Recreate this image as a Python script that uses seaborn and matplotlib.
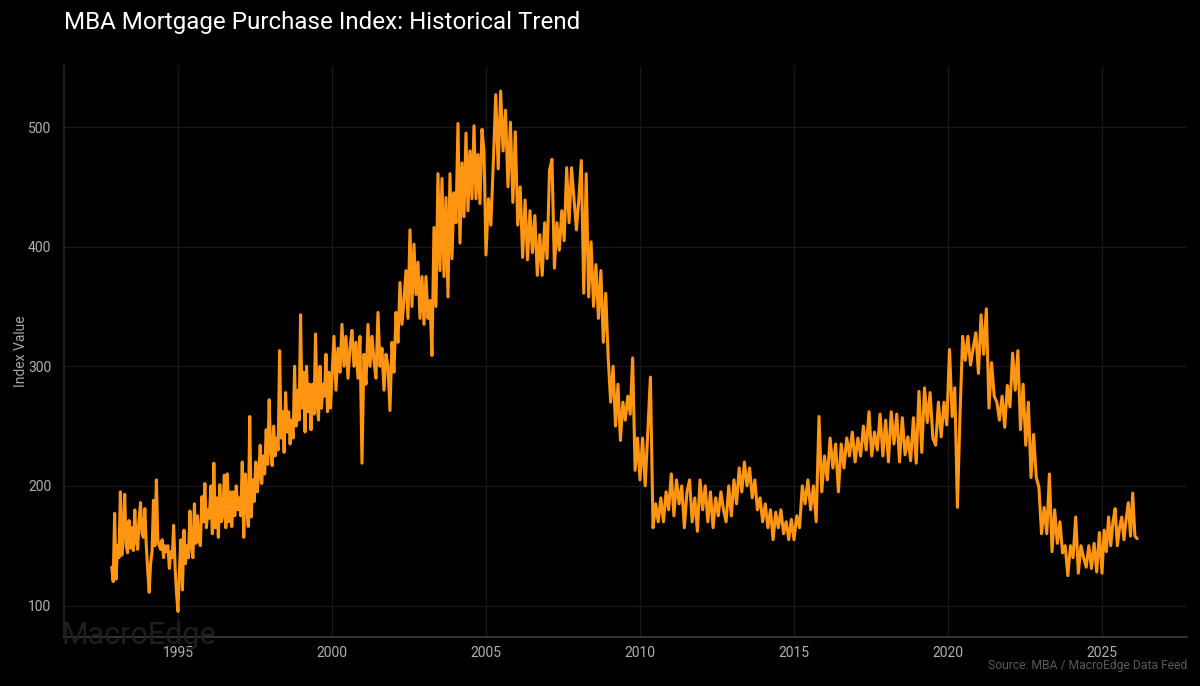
import numpy as np
import pandas as pd
import matplotlib.pyplot as plt
import seaborn as sns

# values, one list per stretch of years
v_1992 = [132, 120, 177, 122, 150, 140, 195, 142, 160, 193, 150, 144, 171, 148, 165, 146, 180, 155, 147,
          172, 186, 160, 157, 181, 150, 129, 111, 135, 145, 188, 150, 205, 155, 150, 147, 155, 140, 150,
          145, 150, 131, 145, 140, 167, 132, 110, 95]
v_1995 = [95, 130, 155, 113, 163, 135, 150, 140, 179, 150, 140, 185, 152, 175, 155, 150, 191, 170, 202, 165,
          180, 173, 200, 160, 219, 165, 190, 157, 201, 170, 175, 209, 165, 210, 170, 195, 166, 195, 175, 200,
          180, 190, 175, 220, 157, 210, 185, 166, 258, 174, 205, 187, 220, 195, 210, 234, 202, 225, 210, 247,
          218, 272, 230, 217, 250, 225, 240, 230, 313, 240, 262, 228, 278, 245, 262, 235, 255, 240, 300, 250,
          280, 255, 343, 265, 295, 245, 300, 262, 285, 247, 285, 260, 327, 270, 255, 300, 265, 285, 275, 310,
          262, 295, 265, 290]
v_2000 = [290, 325, 280, 315, 295, 335, 300, 325, 290, 315, 330, 300, 320, 290, 325, 219, 310, 285, 335, 300,
          325, 305, 290, 345, 300, 315, 280, 310, 300, 263, 320, 295, 345, 320, 370, 335, 355, 380, 340, 414,
          350, 402, 360, 387, 340, 375, 335, 375, 340, 355, 309, 416, 350, 461, 380, 457, 375, 441, 358, 461,
          390, 445, 420, 503, 403, 470, 425, 495, 430, 480, 440, 501, 440, 477, 436, 498, 480, 393]
v_2005 = [393, 440, 418, 470, 527, 465, 530, 480, 514, 450, 504, 437, 496, 418, 450, 391, 439, 389, 430, 395,
          426, 376, 410, 376, 420, 390, 464, 473, 382, 420, 397, 430, 405, 466, 420, 466, 440, 414, 440, 472,
          361, 461, 358, 404, 350, 385, 340, 380, 320, 361, 307, 270, 300, 250, 285, 238, 270, 255, 275, 260,
          307, 213, 240, 205]
v_2010 = [205, 240, 200, 245, 291, 165, 185, 170, 190, 170, 195, 180, 210, 175, 205, 185, 200, 165, 195, 205,
          170, 190, 162, 205, 180, 200, 170, 195, 165, 190, 175, 195, 180, 170, 200, 175, 205, 185, 215, 195,
          220, 200, 215, 190, 205, 180, 190, 170, 185, 165, 180, 155, 178, 165, 180, 160, 170, 155, 172, 155]
v_2015 = [155, 175, 165, 200, 185, 205, 180, 200, 170, 258, 195, 225, 205, 240, 215, 235, 195, 235, 215, 240,
          225, 245, 220, 240, 225, 250, 230, 262, 225, 245, 230, 260, 225, 255, 220, 262, 235, 260, 220, 257,
          226, 241, 221, 257, 219, 279, 228, 282, 253, 278, 240, 234, 270, 241, 270, 251, 314]
v_2020 = [314, 258, 282, 182, 260, 325, 305, 325, 301, 315, 328, 294, 343, 310, 348, 265, 303, 275, 270,
          255, 275, 249, 284, 266, 311, 280, 313, 247, 285, 234, 270, 207, 243, 207, 199, 160, 182, 160, 210,
          145, 180, 152, 170, 144, 150, 125, 150, 140, 174, 127, 150, 140, 132, 150, 131, 152, 128, 161, 127]
v_2025 = [127, 163, 145, 174, 150, 170, 181, 150, 165, 174, 155, 172, 186, 158, 194, 158, 156]

# start and end of each stretch in decimal years
v_stretches = [(1992.85, 1995.0, v_1992), (1995.0, 2000.0, v_1995), (2000.0, 2005.0, v_2000),
               (2005.0, 2010.0, v_2005), (2010.0, 2015.0, v_2010), (2015.0, 2020.05, v_2015),
               (2020.05, 2025.0, v_2020), (2025.0, 2026.14, v_2025)]

xticks = [1995, 2000, 2005, 2010, 2015, 2020, 2025]
yticks = [100, 200, 300, 400, 500]

years, values = [], []
for start, end, vals in v_stretches:
    years.extend(np.linspace(start, end, len(vals)))
    values.extend(vals)
df = pd.DataFrame({'year': years, 'value': values})

sns.set_theme(style='dark')
plt.rcParams['font.family'] = ['Roboto', 'DejaVu Sans']

fig = plt.figure(figsize=(12, 6.86), dpi=100, facecolor='black')
ax = fig.add_axes([64 / 1200, 1 - 636.5 / 686, (1187 - 64) / 1200, (636.5 - 66) / 686], facecolor='black')

sns.lineplot(data=df, x='year', y='value', sort=False, estimator=None, color='#FF9510', linewidth=2.2, ax=ax,
             solid_joinstyle='round', zorder=3)

ax.set_xlim(1991.3, 2027.76)
ax.set_ylim(74.1, 551.0)
ax.set_xticks(xticks)
ax.set_yticks(yticks)
ax.grid(True, color='#181818', linewidth=1)
ax.tick_params(axis='both', colors='#b0b0b0', labelsize=10, length=3, width=0.8, color='#444444', pad=4)
ax.tick_params(axis='y', length=0, pad=9)
ax.set_xlabel('')
ax.set_ylabel('Index Value', color='#a8a8a8', fontsize=10)
ax.yaxis.set_label_coords(-36 / 1123, 0.5)

for side in ['top', 'right']:
    ax.spines[side].set_visible(False)
ax.spines['left'].set_color('#222222')
ax.spines['bottom'].set_color('#3a3a3a')

fig.text(64 / 1200, 1 - 23 / 686, 'MBA Mortgage Purchase Index: Historical Trend', color='white', fontsize=17.4,
         va='center', ha='left')
fig.text(62 / 1200, 1 - 635 / 686, 'MacroEdge', color='#1e1e1e', fontsize=22, va='center', ha='left', zorder=1)
fig.text(1187 / 1200, 1 - 666 / 686, 'Source: MBA / MacroEdge Data Feed', color='#5a5a5a', fontsize=8.7,
         va='center', ha='right')

fig.savefig('out.png', dpi=100, facecolor='black')
